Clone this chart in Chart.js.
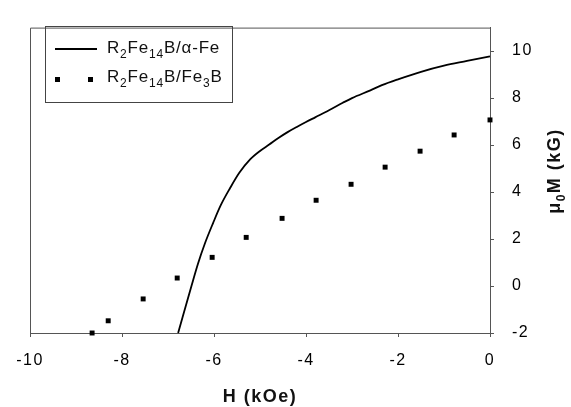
<!DOCTYPE html>
<html>
<head>
  <meta charset="UTF-8" />
  <title>R2Fe14B demagnetization</title>
  <script src="https://cdn.jsdelivr.net/npm/chart.js"></script>
  <style>
    html, body { margin: 0; padding: 0; background: #fff; }
    #wrap { width: 571px; height: 407px; }
  </style>
</head>
<body>
  <div id="wrap"><canvas id="chart" width="571" height="407"></canvas></div>
  <script>
    // axis ticks
    const xTicks = [-10, -8, -6, -4, -2, 0];
    const yTicks = [-2, 0, 2, 4, 6, 8, 10];

    // R2Fe14B/alpha-Fe (solid line)
    const alphaH = [-6.78, -6.49, -6.35, -6.2, -6.02, -5.85, -5.65, -5.45, -5.22, -5.0, -4.8, -4.6, -4.4, -4.2, -4.0, -3.8, -3.5, -3.2, -3.0, -2.6, -2.35, -2.0, -1.5, -1.0, -0.5, 0];
    const alphaM = [-2.0, 0.0, 0.94, 1.8, 2.68, 3.45, 4.17, 4.82, 5.38, 5.75, 6.02, 6.3, 6.55, 6.77, 6.98, 7.18, 7.48, 7.8, 8.0, 8.33, 8.55, 8.8, 9.12, 9.38, 9.58, 9.78];

    // R2Fe14B/Fe3B (square points)
    const fe3bH = [-8.65, -8.3, -7.54, -6.8, -6.04, -5.3, -4.52, -3.78, -3.02, -2.28, -1.52, -0.78, 0];
    const fe3bM = [-2.0, -1.48, -0.55, 0.34, 1.22, 2.07, 2.88, 3.65, 4.33, 5.06, 5.74, 6.43, 7.07];

    const axisColor = "#555";
    const fontFam = "'Liberation Sans', Arial, sans-serif";

    // draws text with subscript pieces, returns width
    function richText(ctx, parts, x, y, size, bold, measureOnly) {
      let w = 0;
      parts.forEach(p => {
        const s = p.sub ? Math.round(size * 0.68) : size;
        ctx.font = (bold ? "bold " : "") + s + "px " + fontFam;
        if (!measureOnly) ctx.fillText(p.t, x + w, y + (p.sub ? size * 0.28 : 0));
        w += ctx.measureText(p.t).width;
      });
      return w;
    }

    const extras = {
      id: "extras",
      beforeDraw(chart) {
        chart.ctx.letterSpacing = "1.5px";
      },
      afterDraw(chart) {
        const ctx = chart.ctx;
        const a = chart.chartArea;
        ctx.save();
        // frame top and left
        ctx.strokeStyle = axisColor;
        ctx.lineWidth = 1;
        ctx.beginPath();
        ctx.moveTo(a.left + 0.5, a.bottom);
        ctx.lineTo(a.left + 0.5, a.top + 0.5);
        ctx.lineTo(a.right, a.top + 0.5);
        ctx.stroke();

        // legend
        ctx.strokeStyle = "#444";
        ctx.strokeRect(45.5, 26.5, 187, 76);
        ctx.strokeStyle = "#000";
        ctx.lineWidth = 2;
        ctx.beginPath();
        ctx.moveTo(55, 49);
        ctx.lineTo(97, 49);
        ctx.stroke();
        ctx.fillStyle = "#000";
        ctx.fillRect(55, 77, 5, 5);
        ctx.fillRect(88, 77, 5, 5);
        ctx.fillStyle = "#111";
        ctx.textBaseline = "alphabetic";
        ctx.textAlign = "left";
        ctx.letterSpacing = "0.8px";
        richText(ctx, [{t: "R"}, {t: "2", sub: true}, {t: "Fe"}, {t: "14", sub: true}, {t: "B/α-Fe"}], 107, 53, 17, false);
        richText(ctx, [{t: "R"}, {t: "2", sub: true}, {t: "Fe"}, {t: "14", sub: true}, {t: "B/Fe"}, {t: "3", sub: true}, {t: "B"}], 107, 82, 17, false);

        // x title
        ctx.letterSpacing = "1.5px";
        const xParts = [{t: "H (kOe)"}];
        let w = richText(ctx, xParts, 0, 0, 18, true, true);
        richText(ctx, xParts, 260 - w / 2, 402, 18, true);

        // y title, reads bottom to top
        const yParts = [{t: "μ"}, {t: "0", sub: true}, {t: "M (kG)"}];
        w = richText(ctx, yParts, 0, 0, 18, true, true);
        ctx.translate(560, 171);
        ctx.rotate(-Math.PI / 2);
        richText(ctx, yParts, -w / 2, 0, 18, true);
        ctx.restore();
      }
    };

    new Chart(document.getElementById("chart"), {
      type: "scatter",
      data: {
        datasets: [
          {
            label: "R2Fe14B/α-Fe",
            data: alphaH.map((h, i) => ({x: h, y: alphaM[i]})),
            showLine: true,
            borderColor: "#000",
            borderWidth: 1.8,
            pointRadius: 0,
            cubicInterpolationMode: "monotone",
            clip: false
          },
          {
            label: "R2Fe14B/Fe3B",
            data: fe3bH.map((h, i) => ({x: h, y: fe3bM[i]})),
            showLine: false,
            pointStyle: "rect",
            pointRadius: 3.5,
            backgroundColor: "#000",
            borderColor: "#000",
            borderWidth: 0,
            clip: false
          }
        ]
      },
      options: {
        responsive: false,
        animation: false,
        layout: { padding: { left: 30, top: 10, right: 0, bottom: 0 } },
        plugins: { legend: { display: false }, tooltip: { enabled: false } },
        scales: {
          x: {
            type: "linear",
            min: -10,
            max: 0,
            afterFit: s => { s.height = 74; },
            afterBuildTicks: s => { s.ticks = xTicks.map(v => ({value: v})); },
            grid: { drawOnChartArea: false, drawTicks: true, tickLength: 4, color: axisColor },
            border: { color: axisColor, width: 1 },
            ticks: { color: "#000", font: { family: fontFam, size: 16 }, padding: 14, maxRotation: 0 }
          },
          y: {
            type: "linear",
            position: "right",
            min: -2,
            max: 11,
            afterFit: s => { s.width = 81; },
            afterBuildTicks: s => { s.ticks = yTicks.map(v => ({value: v})); },
            grid: { drawOnChartArea: false, drawTicks: true, tickLength: 4, color: axisColor },
            border: { color: axisColor, width: 1 },
            ticks: { color: "#000", font: { family: fontFam, size: 16 }, padding: 18 }
          }
        }
      },
      plugins: [extras]
    });
  </script>
</body>
</html>
